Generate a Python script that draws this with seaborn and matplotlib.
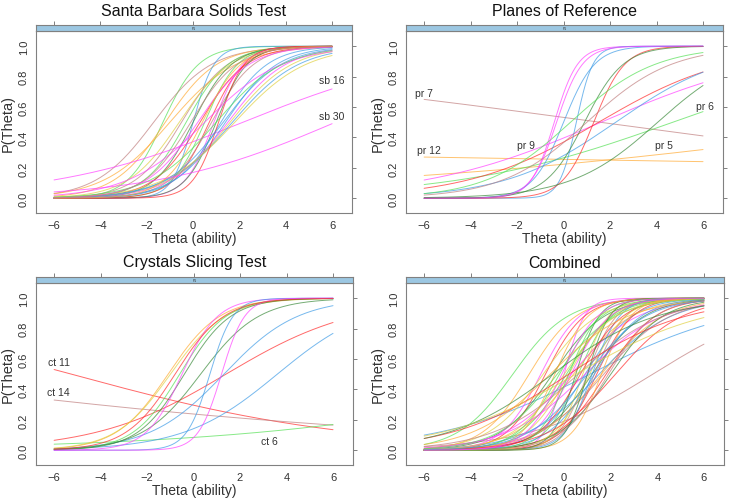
import numpy as np
import pandas as pd
import matplotlib
matplotlib.use('Agg')
import matplotlib.pyplot as plt
import seaborn as sns

# item parameters (discrimination a, difficulty b)
sb_a = [1.3, 0.8, 0.9, 0.7, 2.2, 1.0, 1.1, 0.9, 1.2, 1.0, 1.4, 1.3, 1.6, 1.1, 1.5,
        0.244, 1.0, 0.9, 0.8, 0.75, 0.7, 0.65, 1.8, 0.8, 0.9, 1.2, 0.6, 0.7, 1.0, 0.258]
sb_b = [-1.3, -1.7, -1.2, -1.0, 0.0, -0.5, -0.3, -0.6, 0.0, 0.3, 0.5, 0.7, 0.9, 0.8, 1.0,
        2.15, 1.2, 1.4, 1.5, 1.6, 1.7, 1.8, 1.1, 1.3, 0.2, 0.4, 0.5, 1.0, -0.1, 6.15]
sb_col = ['green', 'brown', 'orange', 'orange', 'blue', 'brown', 'green', 'yellow', 'dkgreen', 'red',
          'green', 'red', 'magenta', 'brown', 'dkgreen', 'magenta', 'blue', 'blue', 'magenta', 'yellow',
          'blue', 'yellow', 'red', 'blue', 'magenta', 'orange', 'magenta', 'green', 'brown', 'magenta']

pr_a = [-0.082, -0.0132, 0.0818, 0.216, 0.262, 0.354, 0.42, 2.0, 2.8, 1.5, 1.5, 1.2, 0.54, 0.55, 0.55, 1.8]
pr_b = [1.56, -81.0, 15.2, 4.70, 1.61, 1.51, 2.24, -0.4, 0.55, 0.0, 1.3, 0.9, 4.05, 0.3, 1.0, -0.3]
pr_col = ['brown', 'orange', 'orange', 'green', 'magenta', 'red', 'blue', 'magenta', 'blue', 'blue',
          'red', 'dkgreen', 'dkgreen', 'green', 'brown', 'magenta']

ct_a = [-0.165, -0.076, 0.1325, 0.36, 0.5, 0.63, 0.9, 0.85, 1.0, 1.0, 0.8, 1.3, 2.0, 2.0, 0.95]
ct_b = [-5.25, -15.3, 18.0, 1.39, 3.6, 1.3, -1.1, -1.0, -0.6, -0.4, 0.3, -0.5, 0.7, 1.2, -0.8]
ct_col = ['red', 'brown', 'green', 'red', 'blue', 'blue', 'orange', 'yellow', 'green', 'dkgreen',
          'dkgreen', 'magenta', 'blue', 'magenta', 'red']

cb_a = [0.85, 1.0, 0.38, 0.31, 2.3, 1.2, 0.9, 1.1, 1.4, 0.8, 1.6, 1.0, 0.7, 1.3, 0.9, 1.8, 1.1, 0.75,
        1.5, 0.65, 1.2, 0.95, 2.0, 0.85, 1.0, 1.4, 0.7, 1.7, 0.6, 1.1, 0.9, 1.3, 0.8, 1.6, 0.55, 1.0,
        1.2, 0.7, 2.1, 0.9, 1.5, 0.6, 1.0, 0.8, 1.3, 0.4, 0.45, 0.35]
cb_b = [-2.2, -1.5, 3.8, 1.1, 0.0, -0.8, -0.5, 0.2, 0.6, 0.4, 1.0, 0.9, 0.3, 1.4, 1.2, 0.8, -0.2, 1.6,
        1.3, 1.5, -1.0, 1.8, 0.5, -0.9, 0.1, -0.4, 1.7, 1.2, 0.9, 0.7, 2.0, 1.1, -0.3, 1.6, 0.6, 1.3,
        0.3, 2.2, 1.0, 0.0, 0.2, -0.6, 1.9, 1.0, -0.1, 0.2, -0.5, 0.5]

titles = ['Santa Barbara Solids Test', 'Planes of Reference', 'Crystals Slicing Test', 'Combined']

# labelled items: (panel, text, theta, p)
item_labels = [(0, 'sb 16', 6.0, 0.78), (0, 'sb 30', 6.0, 0.54),
               (1, 'pr 7', -6.0, 0.69), (1, 'pr 12', -5.8, 0.32), (1, 'pr 9', -1.6, 0.35),
               (1, 'pr 5', 4.3, 0.35), (1, 'pr 6', 6.1, 0.61),
               (2, 'ct 11', -5.8, 0.58), (2, 'ct 14', -5.8, 0.38), (2, 'ct 6', 3.25, 0.06)]

pal = {'green': '#55e055', 'orange': '#ffaa33', 'brown': '#c07f7f', 'blue': '#3d9be6',
       'magenta': '#ff40ff', 'red': '#ff2a2a', 'dkgreen': '#3a8a3a', 'yellow': '#e0d040'}
cycle = ['green', 'orange', 'brown', 'blue', 'magenta', 'red', 'dkgreen', 'yellow']


def icc_frame(a_list, b_list):
    theta = np.linspace(-6, 6, 241)
    rows = []
    for i, (a, b) in enumerate(zip(a_list, b_list)):
        p = 1.0 / (1.0 + np.exp(-a * (theta - b)))
        rows.append(pd.DataFrame({'theta': theta, 'p': p, 'item': i}))
    return pd.concat(rows, ignore_index=True)


sns.set_style('white')
plt.rcParams['font.family'] = ['Liberation Sans', 'DejaVu Sans']

fig = plt.figure(figsize=(7.33, 5.02), dpi=100)

W, H = 733.0, 502.0
boxes = [(36, 352, 32, 214), (406, 723, 32, 214), (36, 353, 284, 466), (406, 724, 284, 466)]
title_y = [12, 12, 263, 263]
strip_h = 6

panels = [(sb_a, sb_b, sb_col), (pr_a, pr_b, pr_col), (ct_a, ct_b, ct_col),
          (cb_a, cb_b, [cycle[i % len(cycle)] for i in range(len(cb_a))])]

grey = '#808080'
for k, ((a_list, b_list, cols), (x0, x1, y0, y1)) in enumerate(zip(panels, boxes)):
    ax = fig.add_axes([x0 / W, 1 - y1 / H, (x1 - x0) / W, (y1 - y0) / H])
    df = icc_frame(a_list, b_list)
    sns.lineplot(data=df, x='theta', y='p', hue='item', palette=[pal[c] for c in cols],
                 legend=False, ax=ax, lw=0.7, alpha=0.7, estimator=None)
    ax.set_xlim(-6.78, 6.86)
    ax.set_ylim(-0.097, 1.10)
    ax.set_xticks([-6, -4, -2, 0, 2, 4, 6])
    ax.set_yticks([0.0, 0.2, 0.4, 0.6, 0.8, 1.0])
    ax.set_yticklabels(['0.0', '0.2', '0.4', '0.6', '0.8', '1.0'], rotation=90, va='center')
    ax.tick_params(direction='out', length=3, width=0.7, color=grey, labelsize=8,
                   labelcolor='#333333', right=True, pad=2)
    for s in ax.spines.values():
        s.set_color(grey)
        s.set_linewidth(0.8)
    ax.set_xlabel('Theta (ability)', fontsize=10, labelpad=1, color='#333333')
    ax.set_ylabel('P(Theta)', fontsize=10.5, labelpad=3, color='#333333')

    sax = fig.add_axes([x0 / W, 1 - y0 / H, (x1 - x0) / W, strip_h / H])
    sax.set_facecolor('#9cc7e2')
    sax.set_xlim(-6.78, 6.86)
    sax.set_xticks([-6, -4, -2, 0, 2, 4, 6])
    sax.set_yticks([])
    sax.tick_params(axis='x', direction='out', length=3, width=0.7, color=grey,
                    top=True, bottom=False, labeltop=False, labelbottom=False)
    for s in sax.spines.values():
        s.set_color(grey)
        s.set_linewidth(0.8)
    sax.text(0.5, 0.5, 'F1', transform=sax.transAxes, ha='center', va='center',
             fontsize=2.5, color='#333333')

    fig.text((x0 + x1) / 2 / W, 1 - title_y[k] / H, titles[k], ha='center', va='center',
             fontsize=11.5, color='#111111')

    for pk, txt, tx, ty in item_labels:
        if pk == k:
            ax.text(tx, ty, txt, ha='center', va='center', fontsize=7.5, color='#333333')

fig.savefig('out.png', dpi=100)
